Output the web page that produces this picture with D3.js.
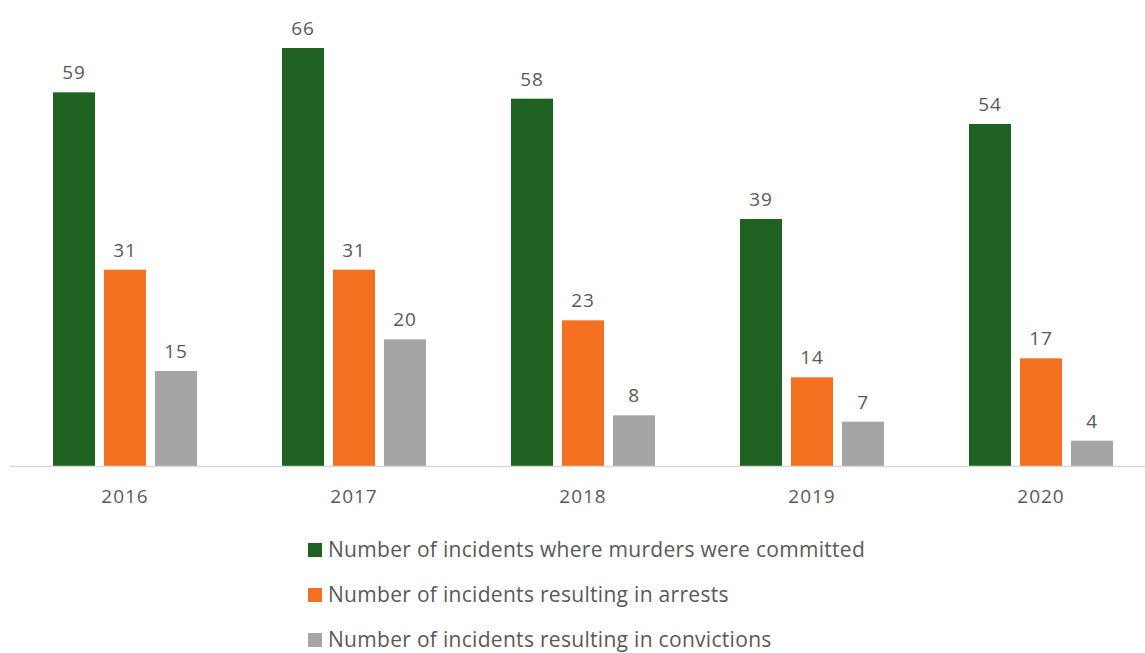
<!DOCTYPE html>
<html><head><meta charset="utf-8">
<script src="https://cdn.jsdelivr.net/npm/d3@7"></script>
<style>body{margin:0;background:#fff;} svg{display:block;}</style>
</head><body>
<svg id="chart" width="1145" height="653"></svg>
<script>
const years = ["2016","2017","2018","2019","2020"];
const seriesNames = ["Number of incidents where murders were committed","Number of incidents resulting in arrests","Number of incidents resulting in convictions"];
const murders = [59,66,58,39,54];
const arrests = [31,31,23,14,17];
const convictions = [15,20,8,7,4];
const colors = ["#1f6120","#f47121","#a5a5a5"];

const series = [murders, arrests, convictions];
const svg = d3.select("#chart");
const font = "'Open Sans', sans-serif";
const textColor = "#595959";

const x0 = d3.scaleBand().domain(years).range([10.5, 1155.5]).paddingInner(0).paddingOuter(0);
const x1 = d3.scaleBand().domain(d3.range(3)).range([0, x0.bandwidth()]).paddingInner(0.176).paddingOuter(0.833);
const y = d3.scaleLinear().domain([0, 66]).range([466, 48]);

const g = svg.append("g");
years.forEach((yr, i) => {
  const gg = g.append("g").attr("transform", `translate(${x0(yr)},0)`);
  series.forEach((s, j) => {
    gg.append("rect").attr("x", x1(j)).attr("y", y(s[i])).attr("width", x1.bandwidth())
      .attr("height", y(0) - y(s[i])).attr("fill", colors[j]);
    gg.append("text").attr("x", x1(j) + x1.bandwidth()/2).attr("y", y(s[i]) - 13)
      .attr("text-anchor","middle").attr("font-family", font).attr("font-size", 19)
      .attr("letter-spacing", 0.8)
      .attr("fill", textColor).text(s[i]);
  });
});

// axis
const xAxis = d3.axisBottom(x0).tickSize(0).tickPadding(24);
const ax = svg.append("g").attr("transform", `translate(0,${y(0)})`).call(xAxis);
ax.select(".domain").attr("stroke", "#d9d9d9").attr("stroke-width", 1.5).attr("d", "M10,0.5H1145");
ax.selectAll("text").attr("font-family", font).attr("font-size", 19).attr("letter-spacing", 1).attr("fill", textColor);

// legend
const leg = svg.append("g");
seriesNames.forEach((n, j) => {
  const ly = 550 + j*45;
  leg.append("rect").attr("x", 308).attr("y", ly - 7).attr("width", 14).attr("height", 14).attr("fill", colors[j]);
  leg.append("text").attr("x", 328).attr("y", ly).attr("dy", "0.35em")
    .attr("font-family", font).attr("font-size", 21).attr("letter-spacing", 0.3)
    .attr("fill", textColor).text(n);
});
</script>
</body></html>
